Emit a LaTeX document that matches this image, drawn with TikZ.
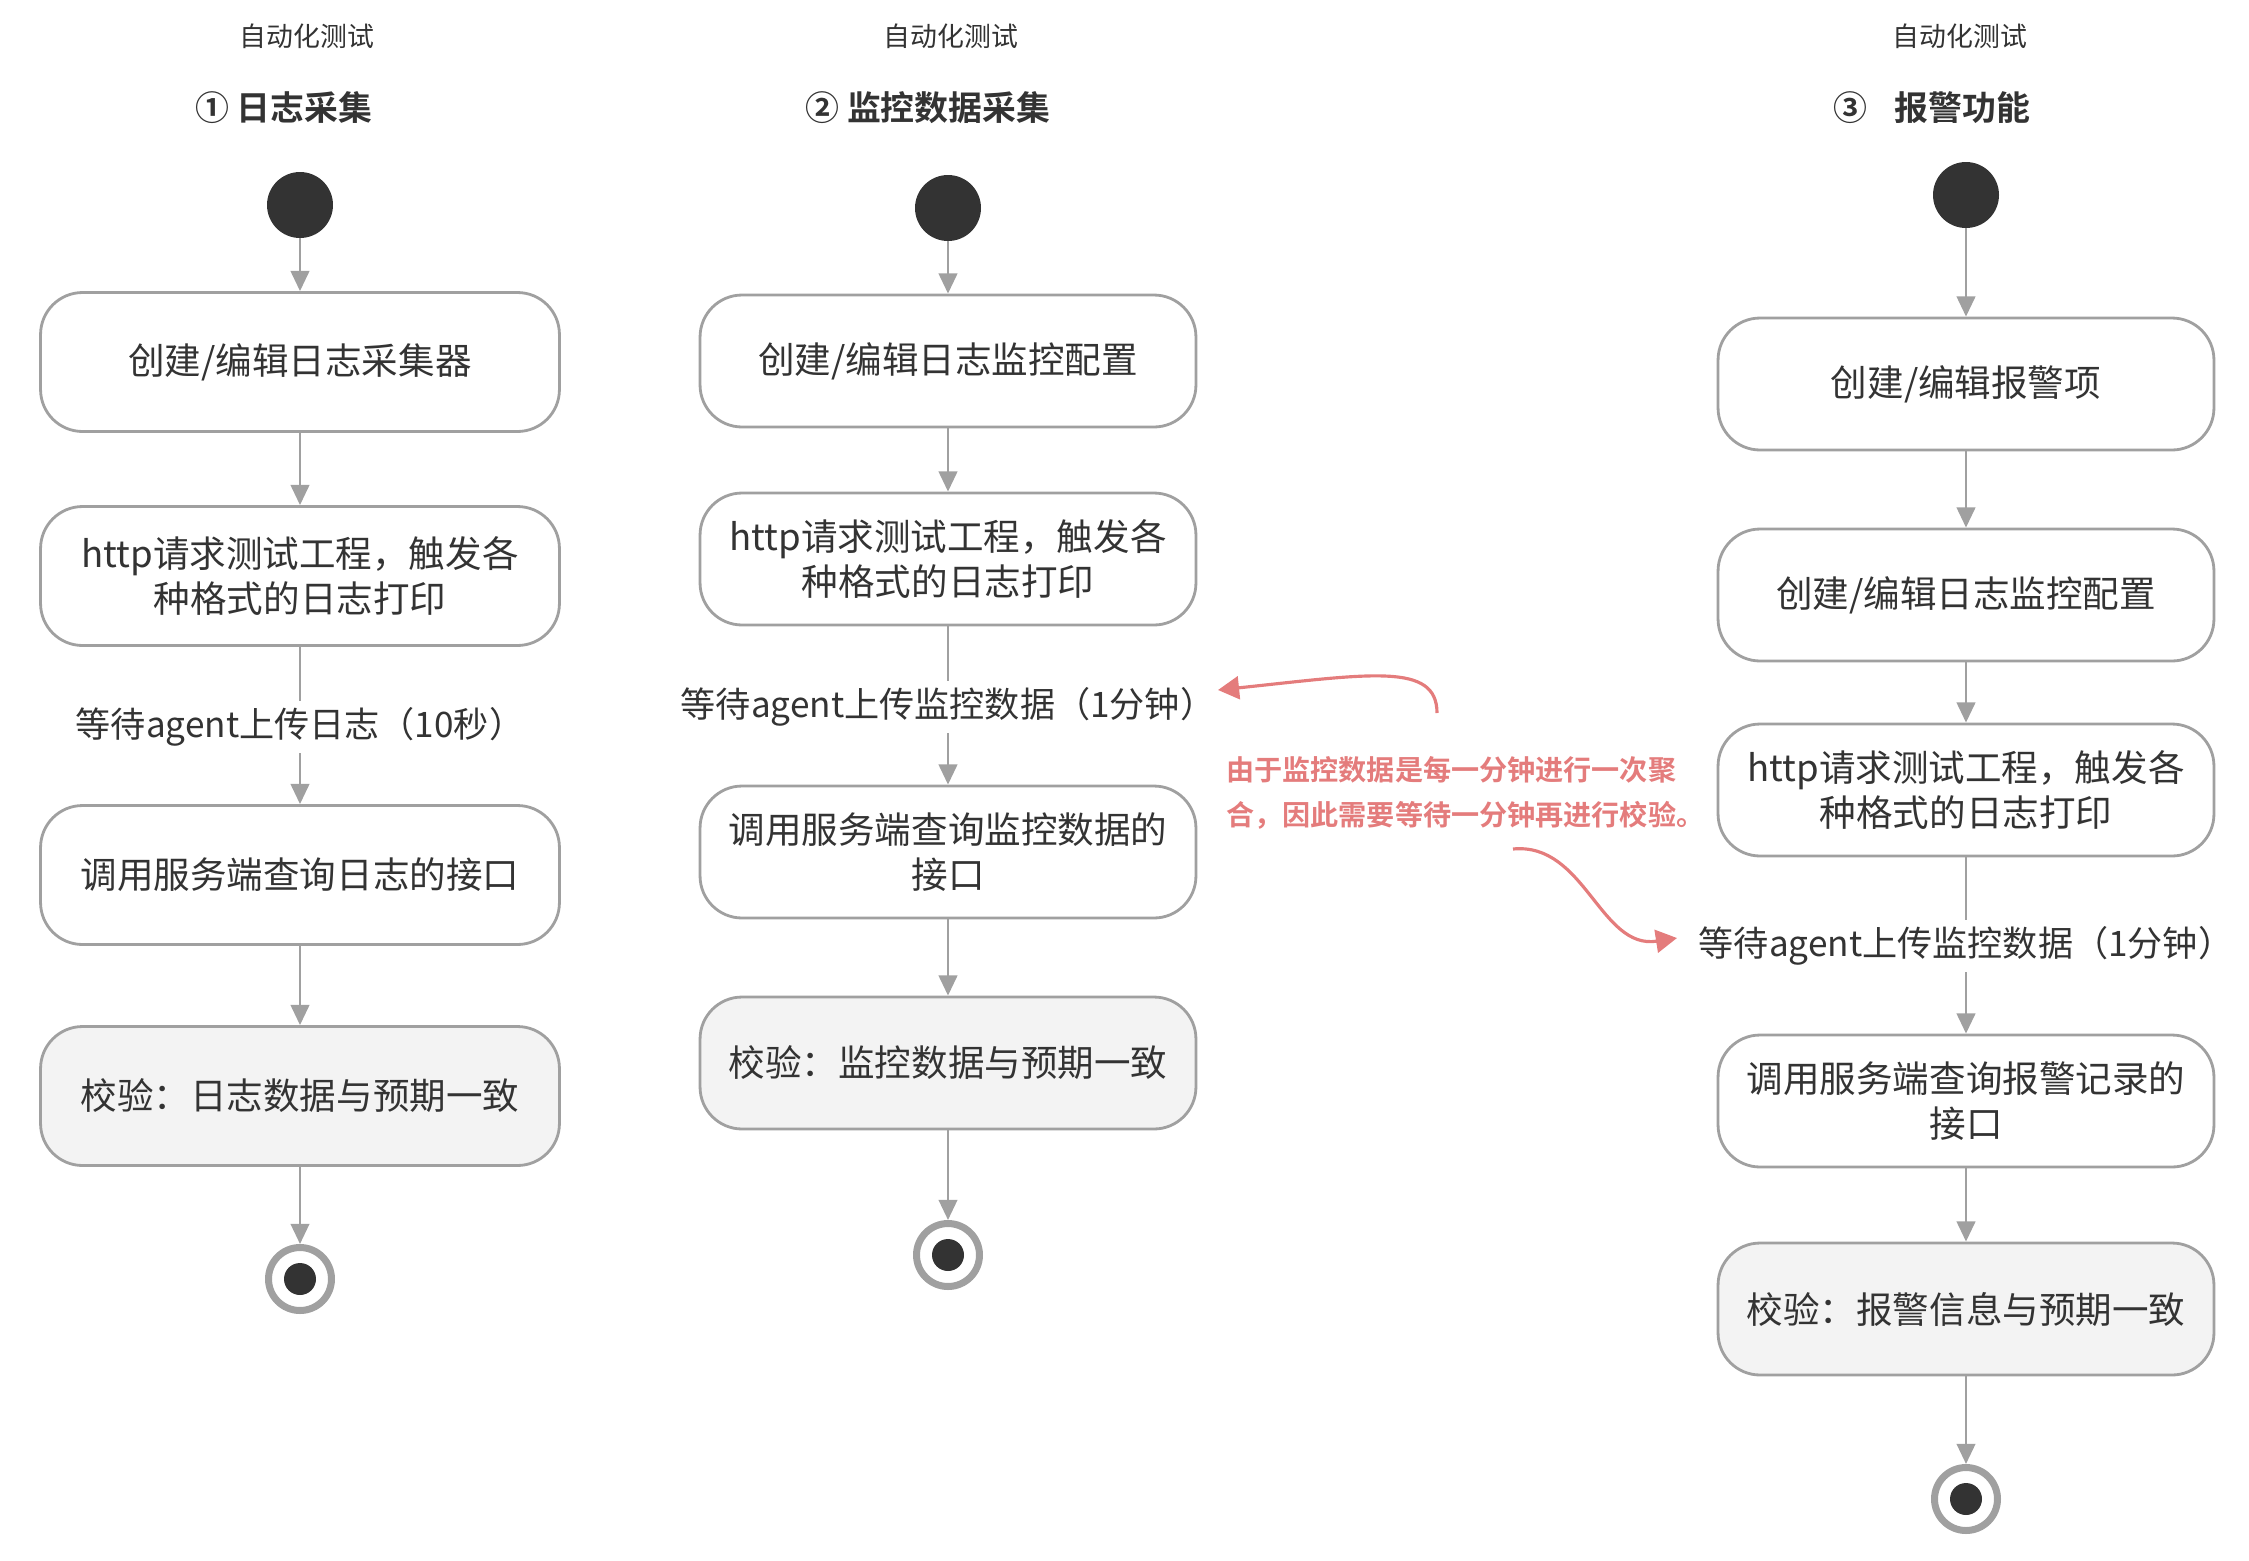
\documentclass[tikz,border=0pt]{standalone}
\usepackage{fontspec}
\setmainfont{Noto Sans CJK SC}[BoldFont={Noto Sans CJK SC Bold}]
\usetikzlibrary{arrows.meta}

\definecolor{cinza}{RGB}{160,160,160}
\definecolor{escuro}{RGB}{51,51,51}
\definecolor{fundo}{RGB}{243,243,243}
\definecolor{nota}{RGB}{228,124,124}

\begin{document}
\begin{tikzpicture}[
    x=0.02cm, y=-0.02cm,
    % Ações comuns
    no/.style={
        draw=cinza, line width=1.6pt, rounded corners=0.84cm, fill=white,
        text=escuro, font=\fontsize{20.8}{26}\selectfont, inner sep=0pt,
        minimum width=9.92cm, minimum height=2.64cm, align=center
    },
    % Ações de verificação
    nochk/.style={no, fill=fundo},
    % Esperas (texto solto sobre a linha)
    espera/.style={
        text=escuro, font=\fontsize{20}{26}\selectfont,
        inner sep=0pt, minimum height=1.04cm
    },
    inicio/.style={circle, fill=escuro, minimum size=1.32cm, inner sep=0pt},
    fim/.style={
        circle, draw=cinza, line width=0.14cm, fill=white,
        minimum size=1.26cm, inner sep=0pt,
        path picture={\fill[escuro] (path picture bounding box.center) circle (0.32cm);}
    },
    cab/.style={text=escuro, font=\fontsize{15.3}{18}\selectfont},
    titulo/.style={text=escuro, font=\fontsize{19.3}{22}\selectfont\bfseries},
    texnota/.style={
        text=nota, font=\fontsize{16}{26}\selectfont\bfseries,
        align=left, inner sep=0pt, anchor=west
    },
    traco/.style={draw=cinza, line width=1.6pt},
    linha/.style={draw=cinza, line width=1.6pt, -{Triangle[width=10.5pt,length=11.5pt]}},
    lnota/.style={draw=nota, line width=1.8pt, -{Triangle[width=13pt,length=12pt]}}
]
\useasboundingbox (0,0) rectangle (2249,1560);

% ---- COLUNA 1: LOG ----
\node[cab]    (h1) at (307, 36)  {自动化测试};
\node[titulo] (t1) at (284, 108) {① 日志采集};

\node[inicio] (ini1) at (300, 205) {};
\node[no, minimum width=10.38cm, minimum height=2.78cm] (c1a) at (300, 362) {创建/编辑日志采集器};
\node[no, minimum width=10.38cm, minimum height=2.78cm] (c1b) at (300, 576) {http请求测试工程，触发各\\种格式的日志打印};
\node[espera] (w1) at (300, 727) {等待agent上传日志（10秒）};
\node[no, minimum width=10.38cm, minimum height=2.78cm] (c1c) at (300, 875) {调用服务端查询日志的接口};
\node[nochk, minimum width=10.38cm, minimum height=2.78cm] (c1d) at (300, 1096) {校验：日志数据与预期一致};
\node[fim] (fim1) at (300, 1279) {};

\draw[linha] (ini1) -- (c1a);
\draw[linha] (c1a) -- (c1b);
\draw[traco] (c1b) -- (w1);
\draw[linha] (w1)  -- (c1c);
\draw[linha] (c1c) -- (c1d);
\draw[linha] (c1d) -- (fim1);

% ---- COLUNA 2: MONITORAMENTO ----
\node[cab]    (h2) at (951, 36)  {自动化测试};
\node[titulo] (t2) at (928, 108) {② 监控数据采集};

\node[inicio] (ini2) at (948, 208) {};
\node[no]     (c2a)  at (948, 361) {创建/编辑日志监控配置};
\node[no]     (c2b)  at (948, 559) {http请求测试工程，触发各\\种格式的日志打印};
\node[espera] (w2)   at (948, 707) {等待agent上传监控数据（1分钟）};
\node[no]     (c2c)  at (948, 852) {调用服务端查询监控数据的\\接口};
\node[nochk]  (c2d)  at (948, 1063) {校验：监控数据与预期一致};
\node[fim]    (fim2) at (948, 1255) {};

\draw[linha] (ini2) -- (c2a);
\draw[linha] (c2a) -- (c2b);
\draw[traco] (c2b) -- (w2);
\draw[linha] (w2)  -- (c2c);
\draw[linha] (c2c) -- (c2d);
\draw[linha] (c2d) -- (fim2);

% ---- COLUNA 3: ALARME ----
\node[cab]    (h3) at (1960, 36)  {自动化测试};
\node[titulo] (t3) at (1932, 108) {③\hspace{0.8em}报警功能};

\node[inicio] (ini3) at (1966, 195) {};
\node[no]     (c3a)  at (1966, 384) {创建/编辑报警项};
\node[no]     (c3b)  at (1966, 595) {创建/编辑日志监控配置};
\node[no]     (c3c)  at (1966, 790) {http请求测试工程，触发各\\种格式的日志打印};
\node[espera] (w3)   at (1966, 946) {等待agent上传监控数据（1分钟）};
\node[no]     (c3d)  at (1966, 1101) {调用服务端查询报警记录的\\接口};
\node[nochk]  (c3e)  at (1966, 1309) {校验：报警信息与预期一致};
\node[fim]    (fim3) at (1966, 1499) {};

\draw[linha] (ini3) -- (c3a);
\draw[linha] (c3a) -- (c3b);
\draw[linha] (c3b) -- (c3c);
\draw[traco] (c3c) -- (w3);
\draw[linha] (w3)  -- (c3d);
\draw[linha] (c3d) -- (c3e);
\draw[linha] (c3e) -- (fim3);

% ---- NOTA (espera de 1 minuto) ----
\node[texnota] (nota) at (1226, 793) {由于监控数据是每一分钟进行一次聚\\合，因此需要等待一分钟再进行校验。};

\coordinate (n1a) at (1437, 713);
\coordinate (n1b) at (1218, 690);
\coordinate (n2a) at (1513, 849);
\coordinate (n2b) at (1677, 938);
\draw[lnota] (n1a) .. controls (1437, 662) and (1370, 674) .. (n1b);
\draw[lnota] (n2a) .. controls (1585, 842) and (1600, 950) .. (n2b);

\end{tikzpicture}
\end{document}
